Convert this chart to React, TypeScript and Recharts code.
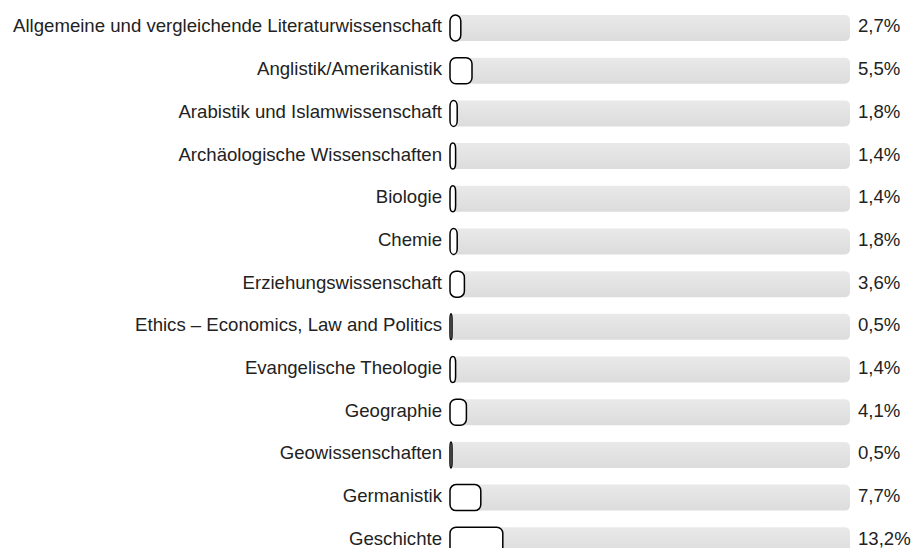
import React from 'react';
import { BarChart, Bar, XAxis, YAxis } from 'recharts';

const categories = [
  'Allgemeine und vergleichende Literaturwissenschaft',
  'Anglistik/Amerikanistik',
  'Arabistik und Islamwissenschaft',
  'Archäologische Wissenschaften',
  'Biologie',
  'Chemie',
  'Erziehungswissenschaft',
  'Ethics – Economics, Law and Politics',
  'Evangelische Theologie',
  'Geographie',
  'Geowissenschaften',
  'Germanistik',
  'Geschichte',
];

const shares = [2.7, 5.5, 1.8, 1.4, 1.4, 1.8, 3.6, 0.5, 1.4, 4.1, 0.5, 7.7, 13.2];

const data = categories.map((name, i) => ({ name, value: shares[i] }));

const fmt = (v: number) => v.toFixed(1).replace('.', ',') + '%';
const valueByName: Record<string, number> = {};
data.forEach((d) => (valueByName[d.name] = d.value));

const FONT = '"Liberation Sans", Arial, sans-serif';
const FS = 18.6;
const TEXT_SHIFT = -2.5;

const RoundBar = (props: any) => {
  const { x, y, width, height } = props;
  if (width == null || height == null) return null;
  return (
    <rect
      x={x}
      y={y}
      width={Math.max(width, 0.5)}
      height={height}
      rx={6}
      ry={6}
      fill="#ffffff"
      stroke="#000000"
      strokeWidth={1.5}
    />
  );
};

const LeftTick = (props: any) => {
  const { x, y, payload } = props;
  return (
    <text x={x} y={y + TEXT_SHIFT} dy="0.355em" textAnchor="end" fill="#222" fontSize={FS} fontFamily={FONT}>
      {payload.value}
    </text>
  );
};

const RightTick = (props: any) => {
  const { x, y, payload } = props;
  return (
    <text x={x} y={y + TEXT_SHIFT} dy="0.355em" textAnchor="start" fill="#222" fontSize={FS} fontFamily={FONT}>
      {fmt(valueByName[payload.value])}
    </text>
  );
};

export default function App() {
  return (
    <div style={{ position: 'absolute', left: 0, top: 0, width: 913, height: 548, overflow: 'hidden', background: '#fff' }}>
      <BarChart
        width={913}
        height={562}
        data={data}
        layout="vertical"
        margin={{ top: 7, right: 0, bottom: 0, left: 0 }}
        barCategoryGap={0}
      >
        <defs>
          <linearGradient id="trackGrad" x1="0" y1="0" x2="0" y2="1">
            <stop offset="0%" stopColor="#e9e9e9" />
            <stop offset="100%" stopColor="#dcdcdc" />
          </linearGradient>
        </defs>
        <XAxis type="number" domain={[0, 100]} hide />
        <YAxis
          yAxisId="left"
          type="category"
          dataKey="name"
          width={450}
          axisLine={false}
          tickLine={false}
          tickSize={0}
          tickMargin={8}
          interval={0}
          tick={<LeftTick />}
        />
        <YAxis
          yAxisId="right"
          orientation="right"
          type="category"
          dataKey="name"
          width={63}
          axisLine={false}
          tickLine={false}
          tickSize={0}
          tickMargin={8}
          interval={0}
          tick={<RightTick />}
        />
        <Bar
          yAxisId="left"
          dataKey="value"
          barSize={26}
          fill="#ffffff"
          stroke="#000000"
          strokeWidth={1.5}
          shape={RoundBar}
          background={{ fill: 'url(#trackGrad)', radius: 5, stroke: 'none' }}
          isAnimationActive={false}
        />
      </BarChart>
    </div>
  );
}
